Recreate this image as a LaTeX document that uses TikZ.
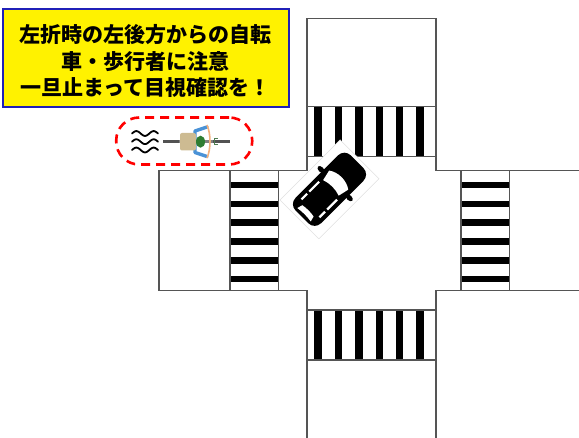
\documentclass[tikz,border=0pt]{standalone}
\usepackage{fontspec}
\newfontfamily\cjk{Noto Sans CJK JP}
\definecolor{signblue}{HTML}{2020B8}
\definecolor{roadline}{HTML}{555555}
\definecolor{armblue}{HTML}{4A92D6}
\definecolor{bodytan}{HTML}{CDBB92}
\definecolor{helmet}{HTML}{2E7D32}
\definecolor{skin}{HTML}{F2B07C}
\begin{document}
\begin{tikzpicture}[x=1pt,y=-1pt,
  road/.style={draw=roadline, line width=1.2pt},
  zebra/.style={fill=black},
  signbox/.style={draw=signblue, fill=yellow, line width=2pt,
    minimum width=286pt, minimum height=98pt, inner sep=0pt},
  signtext/.style={font=\cjk\bfseries\fontsize{21pt}{26.5pt}\selectfont,
    align=center, inner sep=0pt},
  zone/.style={draw=red, line width=2.6pt, dash pattern=on 9pt off 6pt,
    rounded corners=23pt, minimum width=136pt, minimum height=47pt, inner sep=0pt}]
\useasboundingbox (0,0) rectangle (579,438);

% road outline (cross shape)
\draw[road] (159,170.5) -- (307,170.5) -- (307,18.5) -- (436,18.5) -- (436,170.5) -- (579,170.5);
\draw[road] (579,290.5) -- (436,290.5) -- (436,438);
\draw[road] (307,438) -- (307,290.5) -- (159,290.5) -- (159,170.5);

% crosswalks: north and south
\foreach \yy in {106.7,310} {
  \foreach \i in {0,...,5}
    \fill[zebra] (314.3+20.4*\i,\yy) rectangle ++(7.5,50);
  \draw[road] (307,\yy) rectangle (436,\yy+50);
}
% crosswalks: west and east
\foreach \xx/\ww in {230/48.3,461/48.3} {
  \foreach \i in {0,...,5}
    \fill[zebra] (\xx,181.7+18.85*\i) rectangle ++(\ww,6.5);
  \draw[road] (\xx,170.5) rectangle (\xx+\ww,290.5);
}

% car seen from above, turning
\begin{scope}[shift={(329.5,189.3)}, rotate=45]
  \draw[draw=black!12, fill=white, line width=0.5pt] (-42.5,-27.5) rectangle (42.5,27.5);
  \fill[black, rounded corners=9pt] (-39,-18) rectangle (39,18);
  \fill[black] (8,-20) ellipse [x radius=2.6, y radius=4.2];
  \fill[black] (8,20) ellipse [x radius=2.6, y radius=4.2];
  % windscreen
  \fill[white] (2,-11) -- (13,-13.5) .. controls (18.5,-6) and (18.5,6) .. (13,13.5)
    -- (2,11) .. controls (4.5,4) and (4.5,-4) .. cycle;
  % rear window
  \fill[white] (-36,-9.5) -- (-30.5,-8) .. controls (-29.5,-3) and (-29.5,3) .. (-30.5,8)
    -- (-36,9.5) .. controls (-35,3) and (-35,-3) .. cycle;
  % side windows
  \foreach \s in {-1,1} {
    \fill[white] (-27,13.8*\s) rectangle (-19,11.6*\s);
    \fill[white] (-16,13.8*\s) rectangle (-2,11.6*\s);
  }
\end{scope}

% notice board
\node[signbox] (notice) at (145.7,58.3) {};
\node[signtext] (noticetext) at (145.5,61) {左折時の左後方からの自転\\車・歩行者に注意\\一旦止まって目視確認を！};

% cyclist approaching from behind
\node[zone] (zone) at (184.2,141) {};
\foreach \yy in {133.5,141.7,150}
  \draw[line width=1.8pt, line cap=round] plot[domain=0:26, samples=40, smooth]
    ({132+\x},{\yy-2.4*sin(\x*540/26)});
\draw[line width=2.4pt, black!50] (163,141.7) -- (230,141.7);
\draw[line width=3.2pt, black!68] (163,141.7) -- (179,141.7);
\draw[line width=3.2pt, black!68] (213,141.7) -- (230,141.7);
\draw[armblue, line width=3.4pt, line cap=round, line join=round]
  (207,127) -- (195,131) -- (195,152.5) -- (207,156.5);
\fill[bodytan, rounded corners=2pt] (180,133) rectangle (196,150.5);
\fill[helmet] (200.5,141.7) ellipse [x radius=4.5, y radius=6];
\draw[skin, line width=1.6pt] (207,125) .. controls (211,134) and (211,149) .. (207,158);
\draw[helmet!60!gray, line width=1pt] (217.5,138.6) -- (214,138.6) -- (214,144.8) -- (217.5,144.8);
\end{tikzpicture}
\end{document}
